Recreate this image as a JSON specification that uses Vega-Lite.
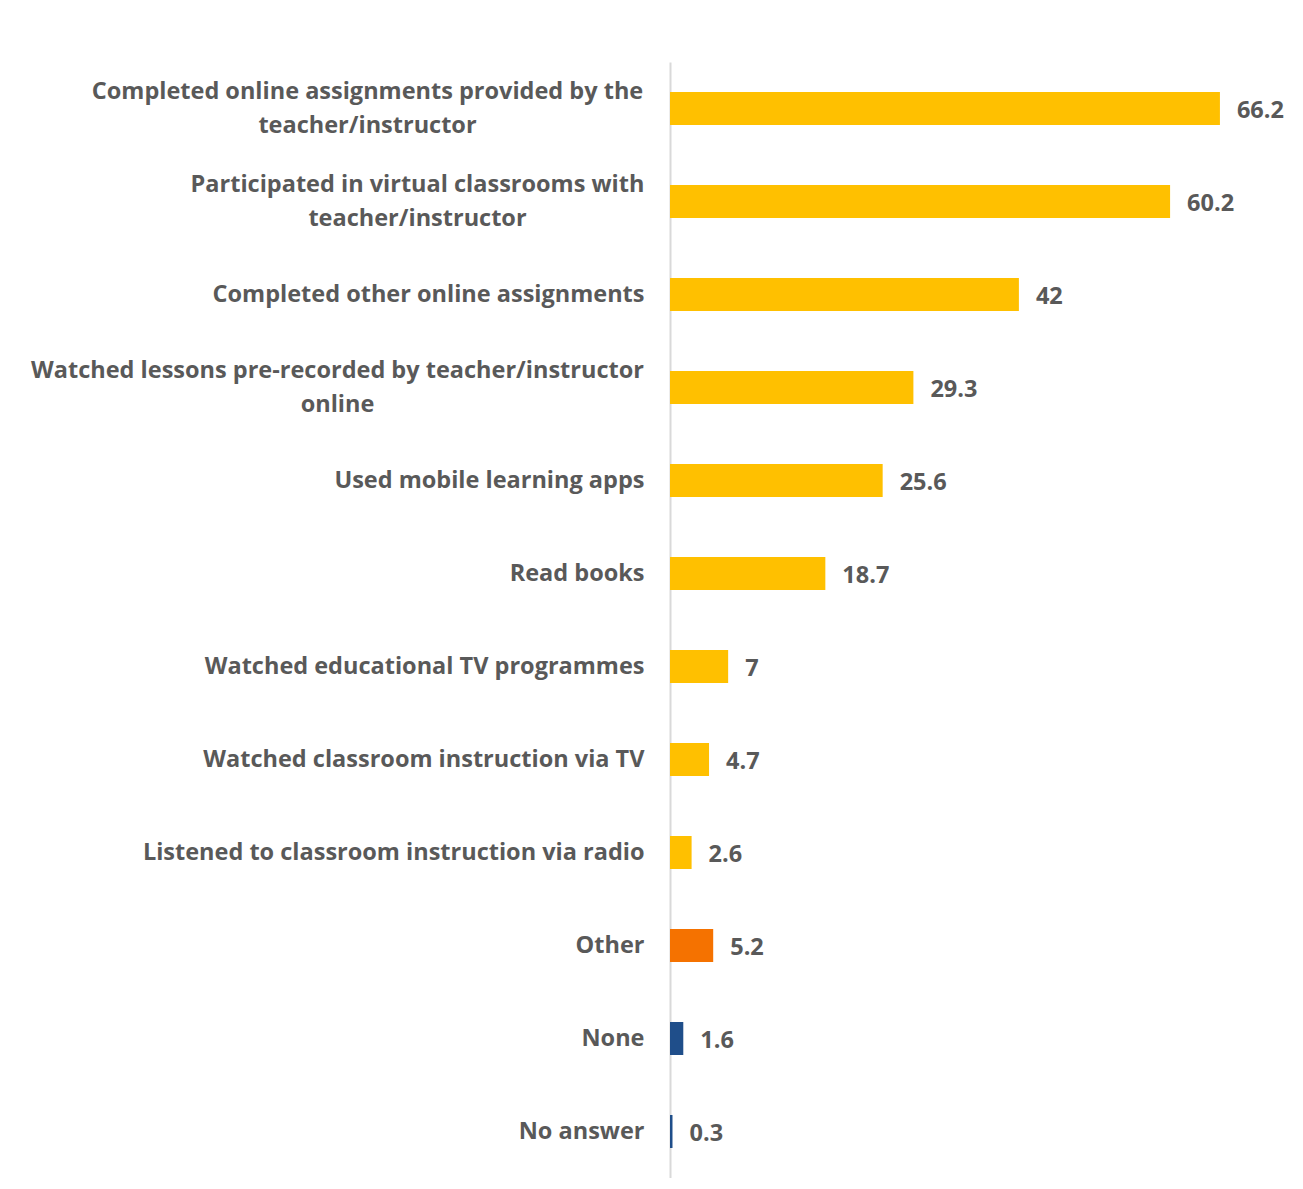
{
  "$schema": "https://vega.github.io/schema/vega-lite/v6.json",
  "autosize": {"type": "none"},
  "padding": {"left": 670, "top": 62, "right": 0, "bottom": 0},
  "width": 633,
  "height": 1116,
  "background": "white",
  "config": {"view": {"stroke": null}, "font": "Open Sans"},
  "data": {"values": [
    {"activity": "Completed online assignments provided by the teacher/instructor", "pct": 66.2, "group": "main"},
    {"activity": "Participated in virtual classrooms with teacher/instructor", "pct": 60.2, "group": "main"},
    {"activity": "Completed other online assignments", "pct": 42, "group": "main"},
    {"activity": "Watched lessons pre-recorded by teacher/instructor online", "pct": 29.3, "group": "main"},
    {"activity": "Used mobile learning apps", "pct": 25.6, "group": "main"},
    {"activity": "Read books", "pct": 18.7, "group": "main"},
    {"activity": "Watched educational TV programmes", "pct": 7, "group": "main"},
    {"activity": "Watched classroom instruction via TV", "pct": 4.7, "group": "main"},
    {"activity": "Listened to classroom instruction via radio", "pct": 2.6, "group": "main"},
    {"activity": "Other", "pct": 5.2, "group": "other"},
    {"activity": "None", "pct": 1.6, "group": "none"},
    {"activity": "No answer", "pct": 0.3, "group": "none"}
  ]},
  "encoding": {
    "y": {
      "field": "activity", "type": "nominal", "sort": null,
      "scale": {"paddingInner": 0.645, "paddingOuter": 0.3225},
      "axis": {
        "title": null, "ticks": false, "domainColor": "#d9d9d9", "domainWidth": 2,
        "labelFont": "Open Sans", "labelFontSize": 23.5, "labelFontWeight": "bold", "labelColor": "#595959",
        "labelLimit": 700, "labelLineHeight": 34,
        "labelExpr": "datum.value == 'Completed online assignments provided by the teacher/instructor' ? ['Completed online assignments provided by the', 'teacher/instructor'] : datum.value == 'Participated in virtual classrooms with teacher/instructor' ? ['Participated in virtual classrooms with', 'teacher/instructor'] : datum.value == 'Watched lessons pre-recorded by teacher/instructor online' ? ['Watched lessons pre-recorded by teacher/instructor', 'online'] : datum.value",
        "labelAlign": {
          "condition": {"test": "datum.value == 'Completed online assignments provided by the teacher/instructor' || datum.value == 'Participated in virtual classrooms with teacher/instructor' || datum.value == 'Watched lessons pre-recorded by teacher/instructor online'", "value": "center"},
          "value": "right"
        },
        "labelPadding": {
          "condition": [
            {"test": "datum.value == 'Completed online assignments provided by the teacher/instructor'", "value": 303},
            {"test": "datum.value == 'Participated in virtual classrooms with teacher/instructor'", "value": 253},
            {"test": "datum.value == 'Watched lessons pre-recorded by teacher/instructor online'", "value": 333}
          ],
          "value": 26
        },
        "labelOffset": {
          "condition": {"test": "datum.value == 'Completed online assignments provided by the teacher/instructor' || datum.value == 'Participated in virtual classrooms with teacher/instructor' || datum.value == 'Watched lessons pre-recorded by teacher/instructor online'", "value": -17},
          "value": 0
        }
      }
    },
    "x": {"field": "pct", "type": "quantitative", "scale": {"domain": [0, 76.2]}, "axis": null}
  },
  "layer": [
    {
      "mark": {"type": "bar"},
      "encoding": {
        "color": {
          "field": "group", "type": "nominal",
          "scale": {"domain": ["main", "other", "none"], "range": ["#FFC000", "#F57200", "#1F4E8A"]},
          "legend": null
        }
      }
    },
    {
      "mark": {"type": "text", "align": "left", "dx": 17, "dy": 2, "font": "Open Sans", "fontSize": 23.5, "fontWeight": "bold", "color": "#595959", "baseline": "middle"},
      "encoding": {"text": {"field": "pct", "type": "quantitative"}}
    }
  ]
}
